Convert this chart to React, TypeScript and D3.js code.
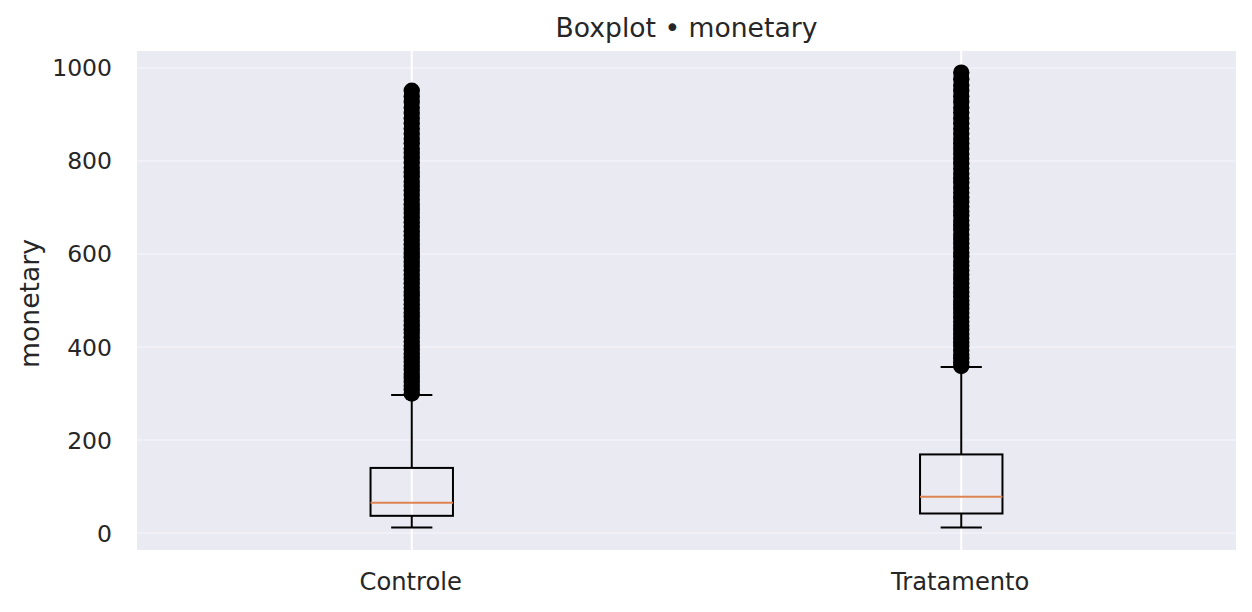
import React, { useEffect, useRef } from 'react'
import { select, scaleLinear, scalePoint } from 'd3'

const groups = ['Controle', 'Tratamento']
// five-number summary per group
const whiskerLow = [12, 12]
const q1 = [37, 42]
const median = [65, 78]
const q3 = [140, 169]
const whiskerHigh = [297, 357]
const yTicks = [0, 200, 400, 600, 800, 1000]

const fliersControle = [
  300, 308, 317, 325, 334, 342, 351, 360, 368, 377, 386, 394, 403, 412, 421,
  430, 438, 447, 456, 465, 474, 483, 492, 501, 510, 519, 528, 537, 546, 556,
  565, 574, 583, 593, 602, 611, 621, 630, 640, 649, 659, 668, 678, 688, 697,
  707, 717, 727, 737, 746, 756, 766, 776, 786, 797, 807, 817, 827, 838, 848,
  859, 870, 881, 892, 903, 915, 927, 939, 951
]
const fliersTratamento = [
  359, 367, 376, 384, 393, 402, 410, 419, 428, 437, 446, 455, 464, 473, 482,
  491, 500, 509, 518, 528, 537, 546, 556, 565, 575, 584, 594, 603, 613, 623,
  632, 642, 652, 662, 672, 682, 692, 702, 712, 722, 732, 742, 753, 763, 773,
  784, 794, 805, 815, 826, 837, 848, 859, 870, 881, 892, 904, 915, 927, 939,
  951, 963, 976, 990
]
const fliers = [fliersControle, fliersTratamento]

const W = 1252
const H = 612
const plot = { left: 137, right: 1236, top: 51, bottom: 550 }
const font = 'DejaVu Sans, sans-serif'
const ink = '#262626'

const App = () => {
  const svgRef = useRef<SVGSVGElement>(null)

  useEffect(() => {
    const svg = select(svgRef.current)
    svg.selectAll('*').remove()

    const xScale = scalePoint<string>()
      .domain(groups)
      .range([plot.left, plot.right])
      .padding(0.5)
    const step = xScale.step()

    const yScale = scaleLinear()
      .domain([-36.5, 1036.5])
      .range([plot.bottom, plot.top])

    // background
    svg.append('rect')
      .attr('x', plot.left)
      .attr('y', plot.top)
      .attr('width', plot.right - plot.left)
      .attr('height', plot.bottom - plot.top)
      .attr('fill', '#EAEAF2')

    // horizontal grid (faint)
    svg.selectAll('.ygrid')
      .data(yTicks)
      .join('line')
      .attr('class', 'ygrid')
      .attr('x1', plot.left)
      .attr('x2', plot.right)
      .attr('y1', d => yScale(d))
      .attr('y2', d => yScale(d))
      .attr('stroke', '#ffffff')
      .attr('stroke-opacity', 0.3)
      .attr('stroke-width', 2)

    // vertical grid
    svg.selectAll('.xgrid')
      .data(groups)
      .join('line')
      .attr('class', 'xgrid')
      .attr('x1', d => xScale(d)!)
      .attr('x2', d => xScale(d)!)
      .attr('y1', plot.top)
      .attr('y2', plot.bottom)
      .attr('stroke', '#ffffff')
      .attr('stroke-width', 2)

    // y tick labels
    svg.selectAll('.ytick')
      .data(yTicks)
      .join('text')
      .attr('class', 'ytick')
      .attr('x', 112)
      .attr('y', d => yScale(d) + 8.5)
      .attr('text-anchor', 'end')
      .attr('font-family', font)
      .attr('font-size', 23.5)
      .attr('fill', ink)
      .text(d => d)

    // x tick labels
    svg.selectAll('.xtick')
      .data(groups)
      .join('text')
      .attr('class', 'xtick')
      .attr('x', d => xScale(d)! - 1)
      .attr('y', 590)
      .attr('text-anchor', 'middle')
      .attr('font-family', font)
      .attr('font-size', 24.2)
      .attr('fill', ink)
      .text(d => d)

    const boxW = step * 0.15
    const capW = boxW / 2

    groups.forEach((g, i) => {
      const cx = xScale(g)!
      const gEl = svg.append('g')
        .attr('stroke', '#000')
        .attr('stroke-width', 2)
        .attr('fill', 'none')

      // whiskers
      gEl.append('line')
        .attr('x1', cx).attr('x2', cx)
        .attr('y1', yScale(q1[i])).attr('y2', yScale(whiskerLow[i]))
      gEl.append('line')
        .attr('x1', cx).attr('x2', cx)
        .attr('y1', yScale(q3[i])).attr('y2', yScale(whiskerHigh[i]))
      // caps
      ;[whiskerLow[i], whiskerHigh[i]].forEach(v => {
        gEl.append('line')
          .attr('x1', cx - capW / 2).attr('x2', cx + capW / 2)
          .attr('y1', yScale(v)).attr('y2', yScale(v))
      })
      // box
      gEl.append('rect')
        .attr('x', cx - boxW / 2)
        .attr('y', yScale(q3[i]))
        .attr('width', boxW)
        .attr('height', yScale(q1[i]) - yScale(q3[i]))
      // median
      gEl.append('line')
        .attr('x1', cx - boxW / 2).attr('x2', cx + boxW / 2)
        .attr('y1', yScale(median[i])).attr('y2', yScale(median[i]))
        .attr('stroke', '#DD8452')

      // fliers
      svg.append('g')
        .selectAll('circle')
        .data(fliers[i])
        .join('circle')
        .attr('cx', cx)
        .attr('cy', d => yScale(d))
        .attr('r', 8.2)
        .attr('fill', '#000')
    })

    // title
    svg.append('text')
      .attr('x', (plot.left + plot.right) / 2)
      .attr('y', 36.5)
      .attr('text-anchor', 'middle')
      .attr('font-family', font)
      .attr('font-size', 26.6)
      .attr('fill', ink)
      .text('Boxplot • monetary')

    // y label
    svg.append('text')
      .attr('transform', `translate(39, ${(plot.top + plot.bottom) / 2 + 3}) rotate(-90)`)
      .attr('text-anchor', 'middle')
      .attr('font-family', font)
      .attr('font-size', 26.6)
      .attr('fill', ink)
      .text('monetary')
  }, [])

  return (
    <svg
      ref={svgRef}
      width={W}
      height={H}
      style={{ position: 'absolute', left: 0, top: 0, background: '#fff' }}
    />
  )
}

export default App
